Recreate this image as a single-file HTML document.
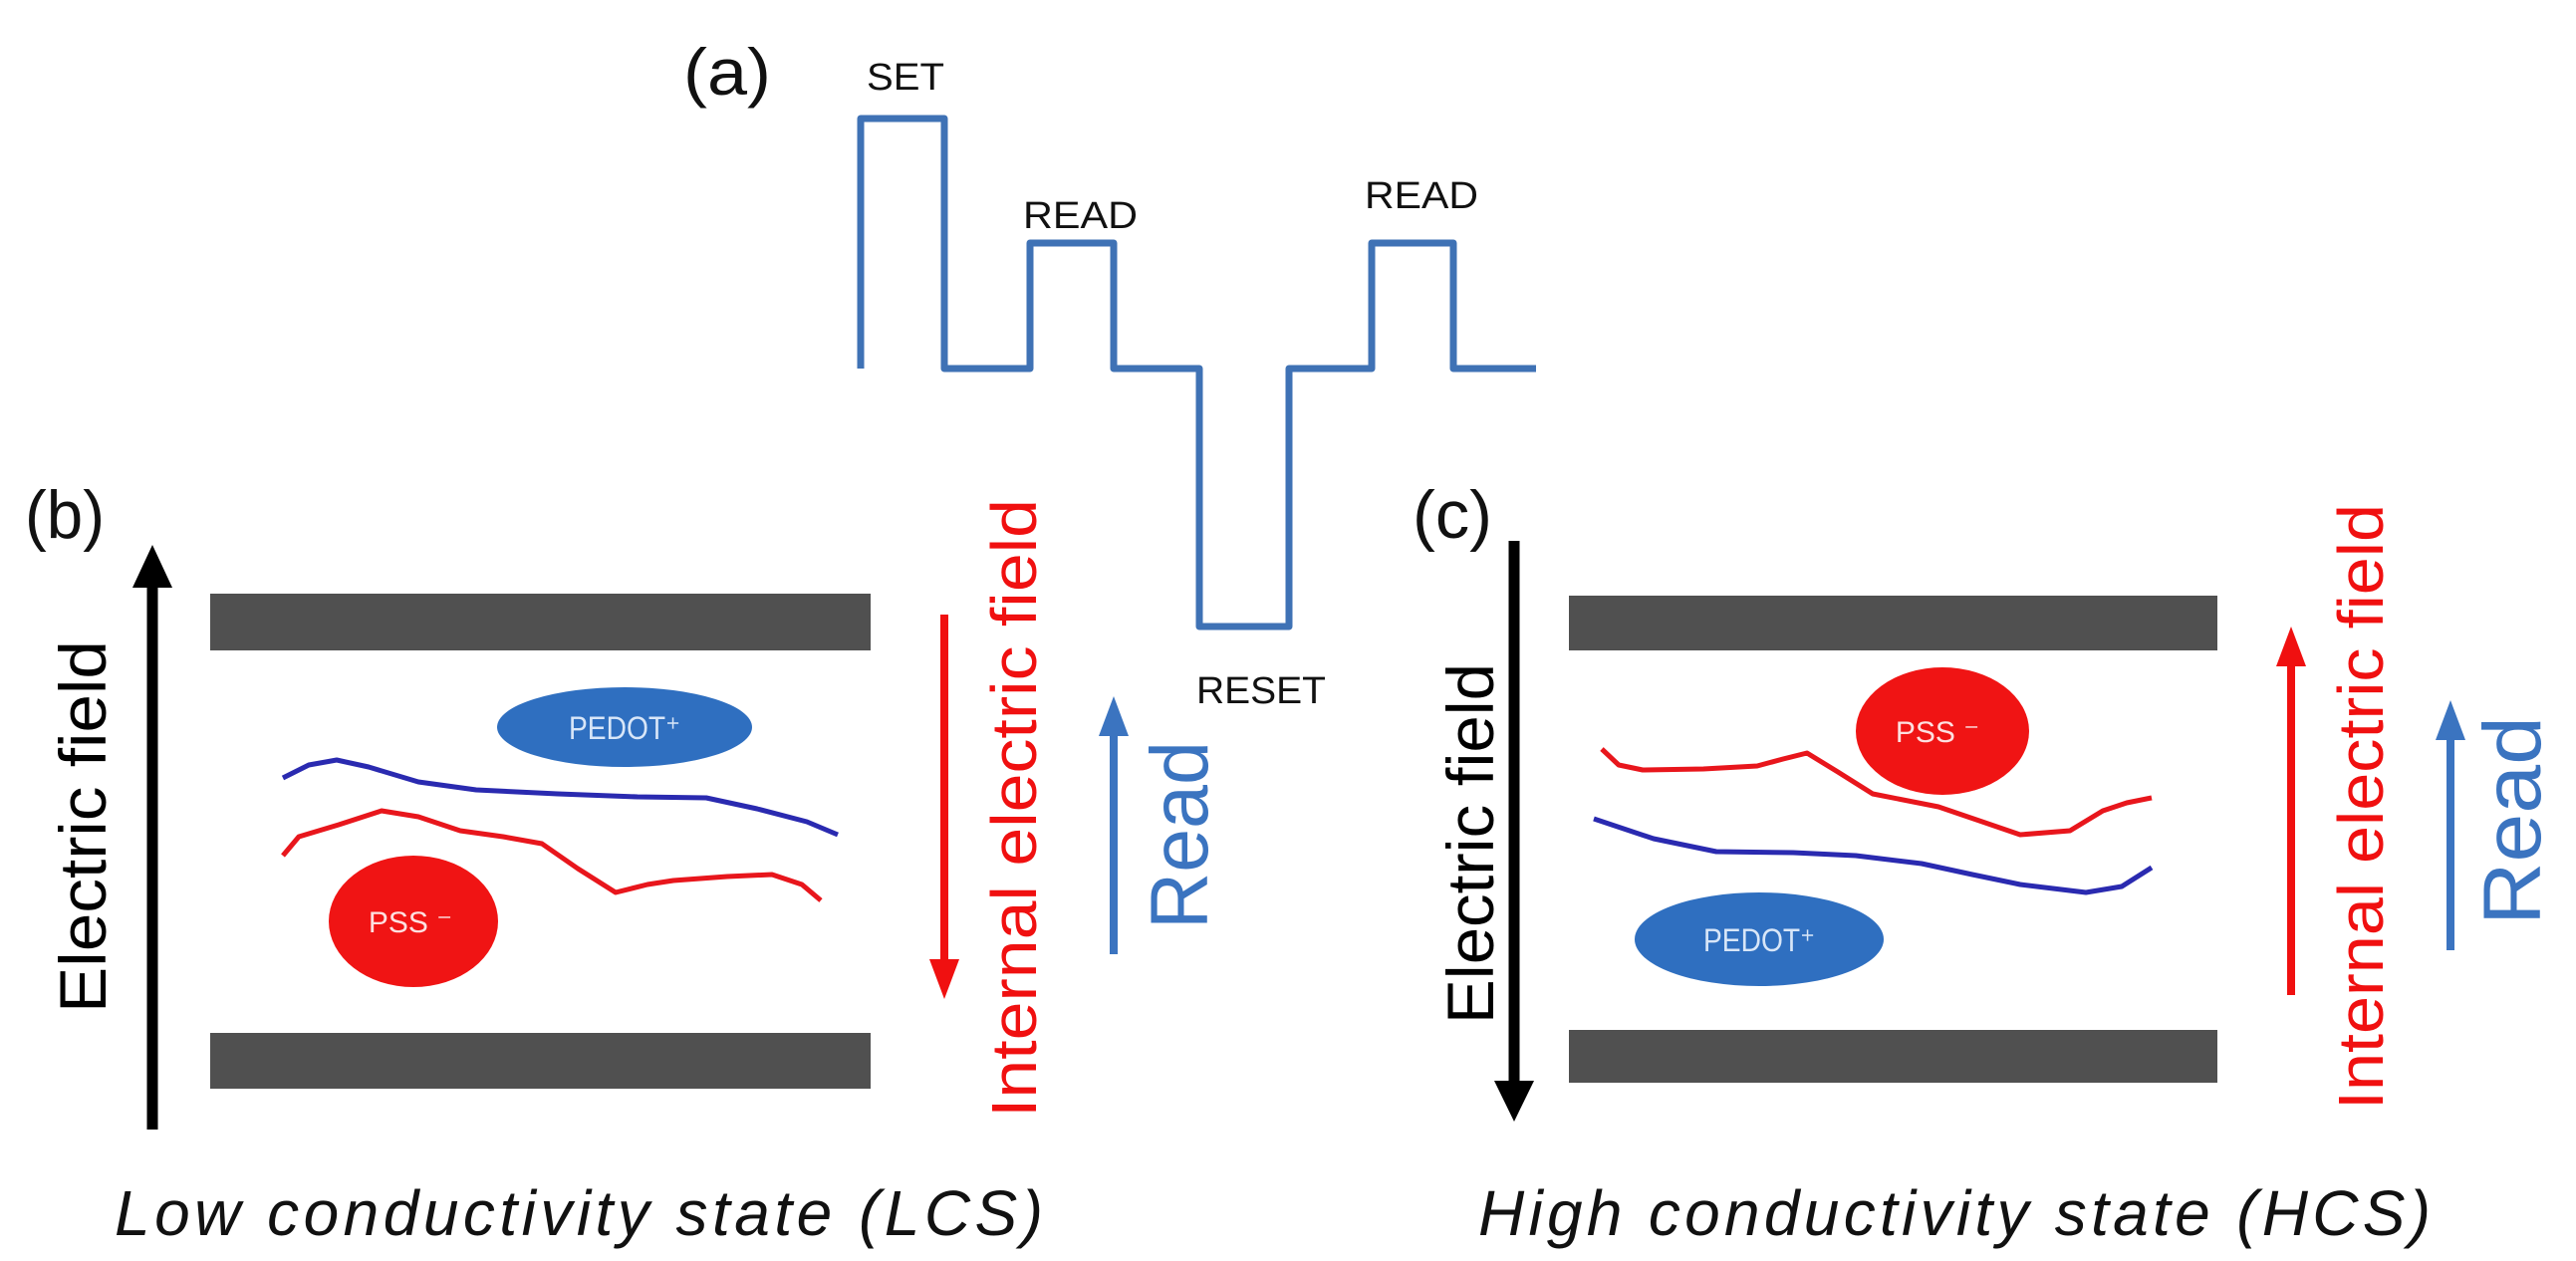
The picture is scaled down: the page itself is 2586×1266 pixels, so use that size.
<!DOCTYPE html>
<html><head><meta charset="utf-8"><style>
html,body{margin:0;padding:0;background:#fff;}
svg{display:block;}
text{font-family:"Liberation Sans",sans-serif;}
</style></head><body>
<svg width="2586" height="1266" viewBox="0 0 2586 1266" xmlns="http://www.w3.org/2000/svg">
<!-- (a) waveform -->
<text x="686" y="95" font-size="66" textLength="88" lengthAdjust="spacingAndGlyphs" fill="#111">(a)</text>
<polyline points="864,370 864,119 948,119 948,370 1034,370 1034,244 1118,244 1118,370 1204,370 1204,629 1294,629 1294,370 1377,370 1377,244 1459,244 1459,370 1542,370" fill="none" stroke="#3f72b5" stroke-width="7" stroke-linejoin="round"/>
<text x="870" y="90" font-size="38" textLength="78" lengthAdjust="spacingAndGlyphs" fill="#111">SET</text>
<text x="1027" y="229" font-size="38" textLength="115" lengthAdjust="spacingAndGlyphs" fill="#111">READ</text>
<text x="1370" y="209" font-size="38" textLength="114" lengthAdjust="spacingAndGlyphs" fill="#111">READ</text>
<text x="1201" y="706" font-size="38" textLength="130" lengthAdjust="spacingAndGlyphs" fill="#111">RESET</text>

<!-- (b) -->
<text x="25" y="540" font-size="68" textLength="80" lengthAdjust="spacingAndGlyphs" fill="#111">(b)</text>
<line x1="153" y1="1134" x2="153" y2="585" stroke="#000" stroke-width="11"/>
<polygon points="153,547 133,590 173,590" fill="#000"/>
<text transform="translate(106,1017) rotate(-90)" font-size="66" textLength="374" lengthAdjust="spacingAndGlyphs" fill="#000">Electric field</text>
<rect x="211" y="596" width="663" height="57" fill="#505050"/>
<rect x="211" y="1037" width="663" height="56" fill="#505050"/>
<polyline points="284,781 310,768 338,763 370,770 420,785 478,793 560,797 640,800 709,801 760,812 810,825 841,838" fill="none" stroke="#2a2ab0" stroke-width="5" stroke-linejoin="round"/>
<polyline points="284,859 300,840 340,828 383,814 420,820 462,834 505,840 544,847 580,872 618,896 650,888 676,884 730,880 775,878 805,888 824,904" fill="none" stroke="#e8161c" stroke-width="5" stroke-linejoin="round"/>
<ellipse cx="627" cy="730" rx="128" ry="40" fill="#2f6fc0"/>
<text x="627" y="742" font-size="32" text-anchor="middle" textLength="112" lengthAdjust="spacingAndGlyphs" fill="#d8e6f8">PEDOT⁺</text>
<ellipse cx="415" cy="925" rx="85" ry="66" fill="#f01414"/>
<text x="412" y="936" font-size="30" text-anchor="middle" fill="#fde0e0">PSS ⁻</text>
<line x1="948" y1="617" x2="948" y2="965" stroke="#f01010" stroke-width="8"/>
<polygon points="948,1003 933,963 963,963" fill="#f01010"/>
<text transform="translate(1040,1122) rotate(-90)" font-size="64" textLength="621" lengthAdjust="spacingAndGlyphs" fill="#f01010">Internal electric field</text>
<line x1="1118" y1="958" x2="1118" y2="735" stroke="#3b74c0" stroke-width="8"/>
<polygon points="1118,699 1103,739 1133,739" fill="#3b74c0"/>
<text transform="translate(1212,933) rotate(-90)" font-size="82" textLength="189" lengthAdjust="spacingAndGlyphs" fill="#3b74c0">Read</text>
<text x="115" y="1240" font-size="64" font-style="italic" textLength="932" lengthAdjust="spacing" fill="#111">Low conductivity state (LCS)</text>

<!-- (c) -->
<text x="1418" y="540" font-size="68" textLength="80" lengthAdjust="spacingAndGlyphs" fill="#111">(c)</text>
<line x1="1520" y1="543" x2="1520" y2="1090" stroke="#000" stroke-width="11"/>
<polygon points="1520,1126 1500,1085 1540,1085" fill="#000"/>
<text transform="translate(1499,1028) rotate(-90)" font-size="66" textLength="362" lengthAdjust="spacingAndGlyphs" fill="#000">Electric field</text>
<rect x="1575" y="598" width="651" height="55" fill="#505050"/>
<rect x="1575" y="1034" width="651" height="53" fill="#505050"/>
<polyline points="1608,752 1625,768 1649,773 1710,772 1764,769 1790,762 1814,756 1845,775 1880,797 1946,810 1990,825 2028,838 2078,834 2111,814 2135,806 2160,801" fill="none" stroke="#e8161c" stroke-width="5" stroke-linejoin="round"/>
<polyline points="1600,822 1660,842 1723,855 1800,856 1863,859 1929,867 1980,878 2028,888 2094,896 2130,890 2160,871" fill="none" stroke="#2a2ab0" stroke-width="5" stroke-linejoin="round"/>
<ellipse cx="1950" cy="734" rx="87" ry="64" fill="#f01414"/>
<text x="1945" y="745" font-size="30" text-anchor="middle" fill="#fde0e0">PSS ⁻</text>
<ellipse cx="1766" cy="943" rx="125" ry="47" fill="#2f6fc0"/>
<text x="1766" y="955" font-size="32" text-anchor="middle" textLength="112" lengthAdjust="spacingAndGlyphs" fill="#d8e6f8">PEDOT⁺</text>
<line x1="2300" y1="999" x2="2300" y2="665" stroke="#f01010" stroke-width="8"/>
<polygon points="2300,629 2285,669 2315,669" fill="#f01010"/>
<text transform="translate(2392,1114) rotate(-90)" font-size="64" textLength="608" lengthAdjust="spacingAndGlyphs" fill="#f01010">Internal electric field</text>
<line x1="2460" y1="954" x2="2460" y2="739" stroke="#3b74c0" stroke-width="8"/>
<polygon points="2460,703 2445,743 2475,743" fill="#3b74c0"/>
<text transform="translate(2550,929) rotate(-90)" font-size="82" textLength="210" lengthAdjust="spacingAndGlyphs" fill="#3b74c0">Read</text>
<text x="1484" y="1240" font-size="64" font-style="italic" textLength="956" lengthAdjust="spacing" fill="#111">High conductivity state (HCS)</text>
</svg>
</body></html>
